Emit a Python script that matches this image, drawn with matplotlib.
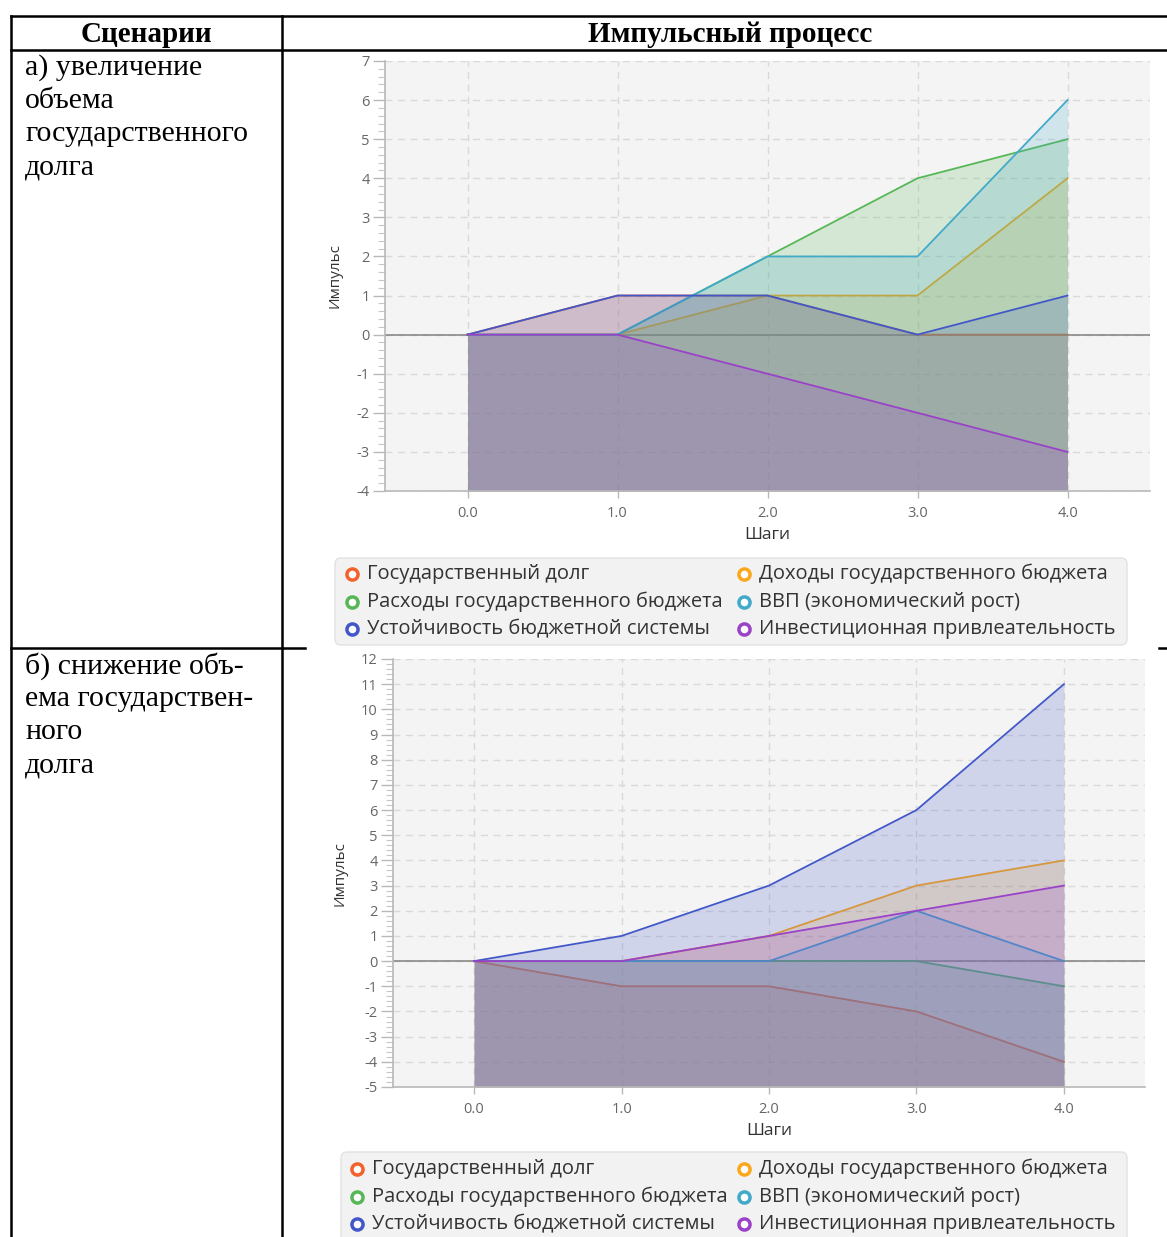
import matplotlib
matplotlib.use('Agg')
import matplotlib.pyplot as plt
from matplotlib.patches import FancyBboxPatch
from matplotlib.ticker import MultipleLocator, FormatStrFormatter

plt.rcParams['axes.unicode_minus'] = False

W, H = 1167, 1237

steps = [0, 1, 2, 3, 4]
series_names = ['Государственный долг', 'Доходы государственного бюджета',
                'Расходы государственного бюджета', 'ВВП (экономический рост)',
                'Устойчивость бюджетной системы', 'Инвестиционная привлеательность']
colors = ['#f3622d', '#fba71b', '#57b757', '#41a9c9', '#4258c9', '#9a42c8']

# scenario a) increase of public debt
inc_debt = [0, 1, 1, 0, 0]
inc_revenue = [0, 0, 1, 1, 4]
inc_spending = [0, 0, 2, 4, 5]
inc_gdp = [0, 0, 2, 2, 6]
inc_stability = [0, 1, 1, 0, 1]
inc_invest = [0, 0, -1, -2, -3]

# scenario b) decrease of public debt
dec_debt = [0, -1, -1, -2, -4]
dec_revenue = [0, 0, 1, 3, 4]
dec_spending = [0, 0, 0, 0, -1]
dec_gdp = [0, 0, 0, 2, 0]
dec_stability = [0, 1, 3, 6, 11]
dec_invest = [0, 0, 1, 2, 3]

header_left = 'Сценарии'
header_right = 'Импульсный процесс'
scenario_a = ['а) увеличение', 'объема', 'государственного', 'долга']
scenario_b = ['б) снижение объ-', 'ема государствен-', 'ного', 'долга']

sans = ['Open Sans', 'DejaVu Sans']
serif = ['Liberation Serif', 'DejaVu Serif']

fig = plt.figure(figsize=(W / 100, H / 100), dpi=100)
fig.patch.set_facecolor('white')


def px_axes(left, top, right, bottom):
    return fig.add_axes([left / W, 1 - bottom / H, (right - left) / W, (bottom - top) / H])


def draw_chart(ax, data, ylo, yhi):
    ax.set_facecolor('#f4f4f4')
    ax.set_xlim(-0.55, 4.55)
    ax.set_ylim(ylo, yhi)
    ax.xaxis.set_major_locator(MultipleLocator(1))
    ax.xaxis.set_major_formatter(FormatStrFormatter('%.1f'))
    ax.yaxis.set_major_locator(MultipleLocator(1))
    ax.yaxis.set_minor_locator(MultipleLocator(0.2))
    ax.grid(True, which='major', color='#d9d9d9', lw=1, ls=(0, (5, 4)), zorder=0)
    ax.set_axisbelow(True)
    ax.axhline(0, color='#808080', lw=1.1, zorder=1.5)
    for i, (vals, col) in enumerate(zip(data, colors)):
        ax.fill_between(steps, vals, ylo, color=col, alpha=0.2, lw=0, zorder=2 + i * 0.1)
        ax.plot(steps, vals, color=col, lw=1.3, zorder=2.05 + i * 0.1)
    for s in ['top', 'right']:
        ax.spines[s].set_visible(False)
    for s in ['left', 'bottom']:
        ax.spines[s].set_color('#b8b8b8')
        ax.spines[s].set_linewidth(1.2)
    ax.tick_params(axis='y', which='major', length=9, width=1, color='#b8b8b8',
                   labelsize=10.5, labelcolor='#666666', pad=2)
    ax.tick_params(axis='y', which='minor', length=5, width=0.8, color='#c8c8c8')
    ax.tick_params(axis='x', length=5, width=1, color='#b8b8b8',
                   labelsize=10.5, labelcolor='#666666', pad=6)
    for lab in ax.get_xticklabels() + ax.get_yticklabels():
        lab.set_family(sans)
    ax.set_xlabel('Шаги', fontsize=12.5, color='#333333', family=sans, labelpad=4)
    ax.set_ylabel('Импульс', fontsize=11, color='#333333', family=sans, labelpad=10)


ax1 = px_axes(385, 61, 1150, 491)
draw_chart(ax1, [inc_debt, inc_revenue, inc_spending, inc_gdp, inc_stability, inc_invest], -4, 7)

ax2 = px_axes(393, 659, 1145, 1087)
draw_chart(ax2, [dec_debt, dec_revenue, dec_spending, dec_gdp, dec_stability, dec_invest], -5, 12)

# overlay in pixel coordinates for the table and legends
ov = fig.add_axes([0, 0, 1, 1])
ov.set_xlim(0, W)
ov.set_ylim(H, 0)
ov.axis('off')

lw_t = 1.8
ov.plot([11, W], [16, 16], color='black', lw=lw_t)
ov.plot([11, W], [50, 50], color='black', lw=lw_t)
ov.plot([11, 11], [16, H], color='black', lw=lw_t)
ov.plot([282, 282], [16, H], color='black', lw=lw_t)
ov.plot([11, 305], [648, 648], color='black', lw=lw_t)
ov.plot([1159, W], [648, 648], color='black', lw=lw_t)

ov.text(146, 34, header_left, ha='center', va='center', fontsize=21,
        fontweight='bold', family=serif)
ov.text(730, 34, header_right, ha='center', va='center', fontsize=21,
        fontweight='bold', family=serif)
for i, line in enumerate(scenario_a):
    ov.text(25, 68 + 33 * i, line, ha='left', va='center', fontsize=21.5, family=serif)
for i, line in enumerate(scenario_b):
    ov.text(25, 666 + 33 * i, line, ha='left', va='center', fontsize=21.5, family=serif)


def draw_legend(left, top, right, bottom, mx, rows_y):
    box = FancyBboxPatch((left, top), right - left, bottom - top,
                         boxstyle='round,pad=0,rounding_size=6',
                         fc='#f2f2f2', ec='#e2e2e2', lw=1)
    ov.add_patch(box)
    for k, (name, col) in enumerate(zip(series_names, colors)):
        r, c = divmod(k, 2)
        x0 = mx[c]
        y0 = rows_y[r]
        ov.plot([x0], [y0], 'o', ms=8, mfc='white', mec=col, mew=2.5)
        ov.text(x0 + 15, y0, name, ha='left', va='center', fontsize=14.5,
                color='#333333', family=sans)


draw_legend(335, 558, 1127, 645, [352, 744], [574, 602, 629])
draw_legend(341, 1152, 1127, 1250, [357, 744], [1169, 1197, 1224])

fig.savefig('out.png', dpi=100)
